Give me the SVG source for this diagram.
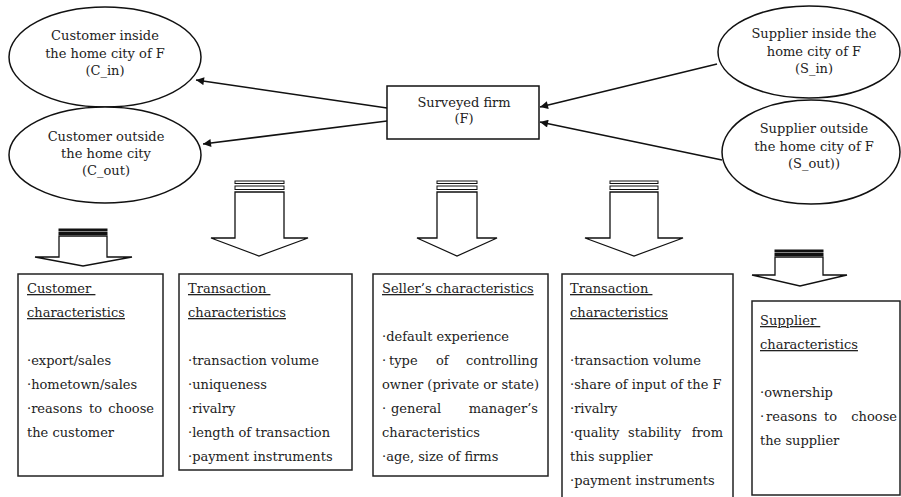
<svg xmlns="http://www.w3.org/2000/svg" width="901" height="497" viewBox="0 0 901 497">
<style>
text{font-family:"DejaVu Serif","Liberation Serif",serif;font-size:13px;fill:#222}
.c{text-anchor:middle}
.u{text-decoration:underline}
.e{text-anchor:end}
.node{fill:#fff;stroke:#111;stroke-width:1.5}
.box{fill:#fff;stroke:#222;stroke-width:1.5}
.conn{stroke:#111;stroke-width:1.5;fill:none}
.barr{fill:#fff;stroke:#111;stroke-width:1.3;stroke-linejoin:miter}
.str{fill:#fff;stroke:#111;stroke-width:1}
.dk{fill:#111;stroke:#111;stroke-width:1}
</style>
<defs>
<marker id="ah" viewBox="0 0 10 10" refX="10" refY="5" markerWidth="10" markerHeight="8" markerUnits="userSpaceOnUse" orient="auto">
<path d="M0,0 L10,5 L0,10 z" fill="#111"/>
</marker>
</defs>

<g id="connectors">
<line class="conn" x1="387" y1="108" x2="196" y2="80" marker-end="url(#ah)"/>
<line class="conn" x1="387" y1="121" x2="203" y2="144" marker-end="url(#ah)"/>
<line class="conn" x1="717" y1="64" x2="540" y2="107" marker-end="url(#ah)"/>
<line class="conn" x1="722" y1="160" x2="540" y2="122" marker-end="url(#ah)"/>
</g>

<g id="c_in">
<ellipse class="node" cx="105" cy="57" rx="96" ry="50"/>
<text class="c" x="105" y="40">Customer inside</text>
<text class="c" x="105" y="58">the home city of F</text>
<text class="c" x="105" y="75">(C_in)</text>
</g>
<g id="c_out">
<ellipse class="node" cx="105" cy="155" rx="96" ry="48"/>
<text class="c" x="106" y="141">Customer outside</text>
<text class="c" x="106" y="158">the home city</text>
<text class="c" x="106" y="175">(C_out)</text>
</g>
<g id="firm">
<rect class="node" x="387" y="86" width="152" height="53"/>
<text class="c" x="464" y="107">Surveyed firm</text>
<text class="c" x="464" y="123">(F)</text>
</g>
<g id="s_in">
<ellipse class="node" cx="809" cy="52" rx="91" ry="46"/>
<text class="c" x="814" y="38">Supplier inside the</text>
<text class="c" x="814" y="56">home city of F</text>
<text class="c" x="814" y="73">(S_in)</text>
</g>
<g id="s_out">
<ellipse class="node" cx="811" cy="152" rx="89" ry="52"/>
<text class="c" x="814" y="133">Supplier outside</text>
<text class="c" x="814" y="151">the home city of F</text>
<text class="c" x="814" y="168">(S_out))</text>
</g>

<g id="arrow1">
<rect class="dk" x="59" y="229" width="48" height="2"/>
<rect class="dk" x="59" y="232.5" width="48" height="2"/>
<polygon class="barr" points="59,236 107,236 107,257 132,257 83,266 35,257 59,257"/>
</g>
<g id="arrow2">
<rect class="str" x="235" y="181" width="49" height="2.5"/>
<rect class="str" x="235" y="186" width="49" height="3.5"/>
<polygon class="barr" points="235,192 284,192 284,238 308,238 259,256 211,238 235,238"/>
</g>
<g id="arrow3">
<rect class="str" x="437" y="181" width="40" height="2.5"/>
<rect class="str" x="437" y="186" width="40" height="3.5"/>
<polygon class="barr" points="437,192 477,192 477,238 497,238 457,256 417,238 437,238"/>
</g>
<g id="arrow4">
<rect class="str" x="610" y="181" width="48" height="2.5"/>
<rect class="str" x="610" y="186" width="48" height="3.5"/>
<polygon class="barr" points="610,192 658,192 658,238 683,238 634,256 585,238 610,238"/>
</g>
<g id="arrow5">
<rect class="dk" x="775" y="250" width="48" height="2"/>
<rect class="dk" x="775" y="253.5" width="48" height="2"/>
<polygon class="barr" points="775,257 823,257 823,275 847,275 800,286 752,275 775,275"/>
</g>

<g id="box_customer">
<rect class="box" x="18" y="274" width="145" height="202"/>
<text class="u" x="27" y="293" xml:space="preserve">Customer </text>
<text class="u" x="27" y="317">characteristics</text>
<text x="27" y="365">·export/sales</text>
<text x="27" y="389">·hometown/sales</text>
<text y="413"><tspan x="27">·reasons</tspan><tspan x="89">to</tspan><tspan class="e" x="154">choose</tspan></text>
<text x="27" y="437">the customer</text>
</g>
<g id="box_transaction1">
<rect class="box" x="179" y="274" width="173" height="196"/>
<text class="u" x="188" y="293" xml:space="preserve">Transaction </text>
<text class="u" x="188" y="317">characteristics</text>
<text x="188" y="365">·transaction volume</text>
<text x="188" y="389">·uniqueness</text>
<text x="188" y="413">·rivalry</text>
<text x="188" y="437">·length of transaction</text>
<text x="188" y="461">·payment instruments</text>
</g>
<g id="box_seller">
<rect class="box" x="373" y="274" width="175" height="202"/>
<text class="u" x="382" y="293">Seller’s characteristics</text>
<text x="382" y="341">·default experience</text>
<text y="365"><tspan x="382">·</tspan><tspan x="389">type</tspan><tspan x="436">of</tspan><tspan class="e" x="538">controlling</tspan></text>
<text x="382" y="389">owner (private or state)</text>
<text y="413"><tspan x="382">·</tspan><tspan x="391">general</tspan><tspan class="e" x="538">manager’s</tspan></text>
<text x="382" y="437">characteristics</text>
<text x="382" y="461">·age, size of firms</text>
</g>
<g id="box_transaction2">
<rect class="box" x="562" y="274" width="171" height="230"/>
<text class="u" x="570" y="293" xml:space="preserve">Transaction </text>
<text class="u" x="570" y="317">characteristics</text>
<text x="570" y="365">·transaction volume</text>
<text x="570" y="389">·share of input of the F</text>
<text x="570" y="413">·rivalry</text>
<text y="437"><tspan x="570">·quality</tspan><tspan x="628">stability</tspan><tspan class="e" x="723">from</tspan></text>
<text x="570" y="461">this supplier</text>
<text x="570" y="485">·payment instruments</text>
</g>
<g id="box_supplier">
<rect class="box" x="752" y="301" width="148" height="194"/>
<text class="u" x="760" y="325" xml:space="preserve">Supplier </text>
<text class="u" x="760" y="349">characteristics</text>
<text x="760" y="397">·ownership</text>
<text y="421"><tspan x="760">·</tspan><tspan x="766">reasons</tspan><tspan x="824">to</tspan><tspan class="e" x="897">choose</tspan></text>
<text x="760" y="445">the supplier</text>
</g>
</svg>
